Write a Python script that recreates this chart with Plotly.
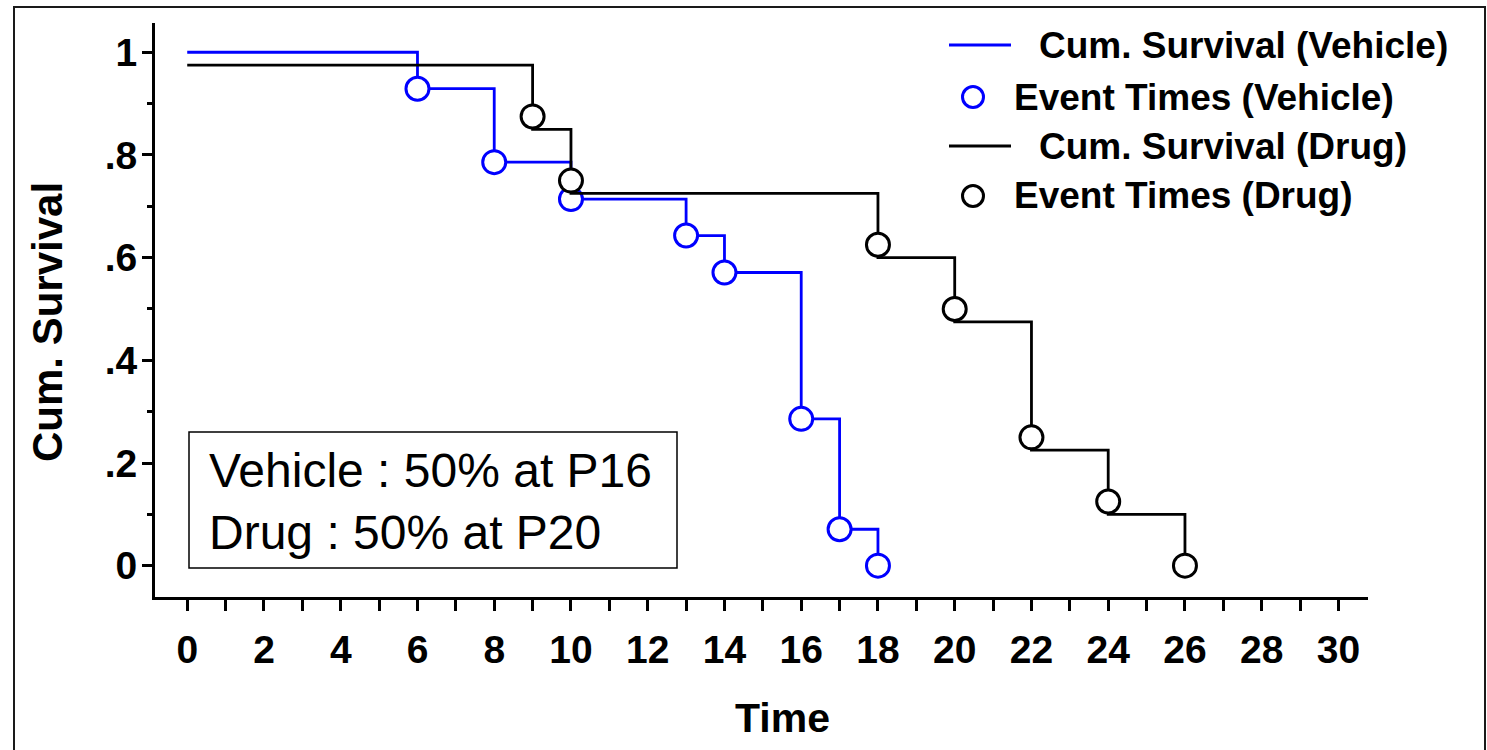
import plotly.graph_objects as go

# Kaplan-Meier survival estimates
vehicle_time = [0, 6, 8, 10, 13, 14, 16, 17, 18]
vehicle_surv = [1.0, 0.929, 0.786, 0.714, 0.643, 0.571, 0.286, 0.071, 0.0]
vehicle_event_time = [6, 8, 10, 13, 14, 16, 17, 18]
vehicle_event_surv = [0.929, 0.786, 0.714, 0.643, 0.571, 0.286, 0.071, 0.0]

# drug step line is drawn slightly lowered so it does not hide the vehicle line
drug_time = [0, 9, 10, 18, 20, 22, 24, 26]
drug_line = [0.975, 0.85, 0.725, 0.6, 0.475, 0.225, 0.1, 0.0]
drug_event_time = [9, 10, 18, 20, 22, 24, 26]
drug_event_surv = [0.875, 0.75, 0.625, 0.5, 0.25, 0.125, 0.0]

y_tick_vals = [0, 0.2, 0.4, 0.6, 0.8, 1.0]
y_tick_text = ["0", ".2", ".4", ".6", ".8", "1"]
x_tick_vals = list(range(0, 31, 2))

legend_labels = [
    "Cum. Survival (Vehicle)",
    "Event Times (Vehicle)",
    "Cum. Survival (Drug)",
    "Event Times (Drug)",
]
summary_lines = ["Vehicle : 50% at P16", "Drug : 50% at P20"]

BLUE = "#0000ff"
BLACK = "#000000"
FONT = "Liberation Sans, Arial, sans-serif"

W, H = 1487, 750
L, R, T, B = 155, 119, 23, 153
PW, PH = W - L - R, H - T - B


def px(x):
    return (x - L) / PW


def py(y):
    return (H - B - y) / PH


fig = go.Figure()

fig.add_trace(go.Scatter(x=vehicle_time, y=vehicle_surv, mode="lines",
                         line=dict(color=BLUE, width=2.8, shape="hv"),
                         name=legend_labels[0], showlegend=False))
fig.add_trace(go.Scatter(x=vehicle_event_time, y=vehicle_event_surv, mode="markers",
                         marker=dict(symbol="circle", size=23, color="white",
                                     line=dict(color=BLUE, width=3)),
                         name=legend_labels[1], showlegend=False, cliponaxis=False))
fig.add_trace(go.Scatter(x=drug_time, y=drug_line, mode="lines",
                         line=dict(color=BLACK, width=2.8, shape="hv"),
                         name=legend_labels[2], showlegend=False))
fig.add_trace(go.Scatter(x=drug_event_time, y=drug_event_surv, mode="markers",
                         marker=dict(symbol="circle", size=23, color="white",
                                     line=dict(color=BLACK, width=3)),
                         name=legend_labels[3], showlegend=False, cliponaxis=False))

tick_font = dict(family=FONT, size=39, color=BLACK, weight="bold")

fig.update_xaxes(
    range=[-0.84, 30.77], showgrid=False, zeroline=False,
    showline=True, linecolor=BLACK, linewidth=3,
    ticks="outside", ticklen=11, tickwidth=2.5, tickcolor=BLACK,
    tickvals=x_tick_vals, tickfont=tick_font, ticklabelstandoff=5,
    minor=dict(dtick=1, ticks="outside", ticklen=11, tickwidth=2.5, tickcolor=BLACK),
)
fig.update_yaxes(
    range=[-0.061, 1.057], showgrid=False, zeroline=False,
    showline=True, linecolor=BLACK, linewidth=3,
    ticks="outside", ticklen=10, tickwidth=2.5, tickcolor=BLACK,
    tickvals=y_tick_vals, ticktext=y_tick_text, tickfont=tick_font,
    ticklabelstandoff=-3,
    minor=dict(dtick=0.1, ticks="outside", ticklen=5, tickwidth=2.5, tickcolor=BLACK),
)

shapes = [
    # outer frame
    dict(type="rect", xref="paper", yref="paper",
         x0=px(14), x1=px(1485), y0=py(765), y1=py(7),
         line=dict(color="#1a1a1a", width=2)),
    # summary box
    dict(type="rect", xref="paper", yref="paper",
         x0=px(189), x1=px(677), y0=py(568), y1=py(432),
         line=dict(color=BLACK, width=1.5), fillcolor="white", layer="below"),
]

annotations = [
    dict(text="<br>".join(summary_lines), xref="paper", yref="paper",
         x=px(207), y=py(501), xanchor="left", yanchor="middle", align="left",
         showarrow=False, font=dict(family=FONT, size=48, color=BLACK)),
    dict(text="Time", xref="paper", yref="paper", x=px(782), y=py(718),
         xanchor="center", yanchor="middle", showarrow=False,
         font=dict(family=FONT, size=41, color=BLACK, weight="bold")),
    dict(text="Cum. Survival", xref="paper", yref="paper", x=px(47), y=py(322),
         xanchor="center", yanchor="middle", textangle=-90, showarrow=False,
         font=dict(family=FONT, size=42, color=BLACK, weight="bold")),
]

# legend block in the upper right corner
legend_rows = [
    ("line", BLUE, 45, 1037),
    ("marker", BLUE, 97, 1012),
    ("line", BLACK, 146, 1037),
    ("marker", BLACK, 196, 1012),
]
for label, (kind, color, yc, xt) in zip(legend_labels, legend_rows):
    if kind == "line":
        shapes.append(dict(type="line", xref="paper", yref="paper",
                           x0=px(949), x1=px(1011), y0=py(yc), y1=py(yc),
                           line=dict(color=color, width=2.8)))
    else:
        shapes.append(dict(type="circle", xref="paper", yref="paper",
                           xsizemode="pixel", ysizemode="pixel",
                           xanchor=px(973), yanchor=py(yc),
                           x0=-10.5, x1=10.5, y0=-10.5, y1=10.5,
                           line=dict(color=color, width=3), fillcolor="white"))
    annotations.append(dict(text=label, xref="paper", yref="paper",
                            x=px(xt), y=py(yc), xanchor="left", yanchor="middle",
                            showarrow=False,
                            font=dict(family=FONT, size=37, color=BLACK, weight="bold")))

fig.update_layout(
    width=W, height=H, autosize=False,
    margin=dict(l=L, r=R, t=T, b=B),
    paper_bgcolor="white", plot_bgcolor="white",
    showlegend=False, shapes=shapes, annotations=annotations,
)

fig.write_html("out.html", include_plotlyjs=True, config={"displayModeBar": False})
